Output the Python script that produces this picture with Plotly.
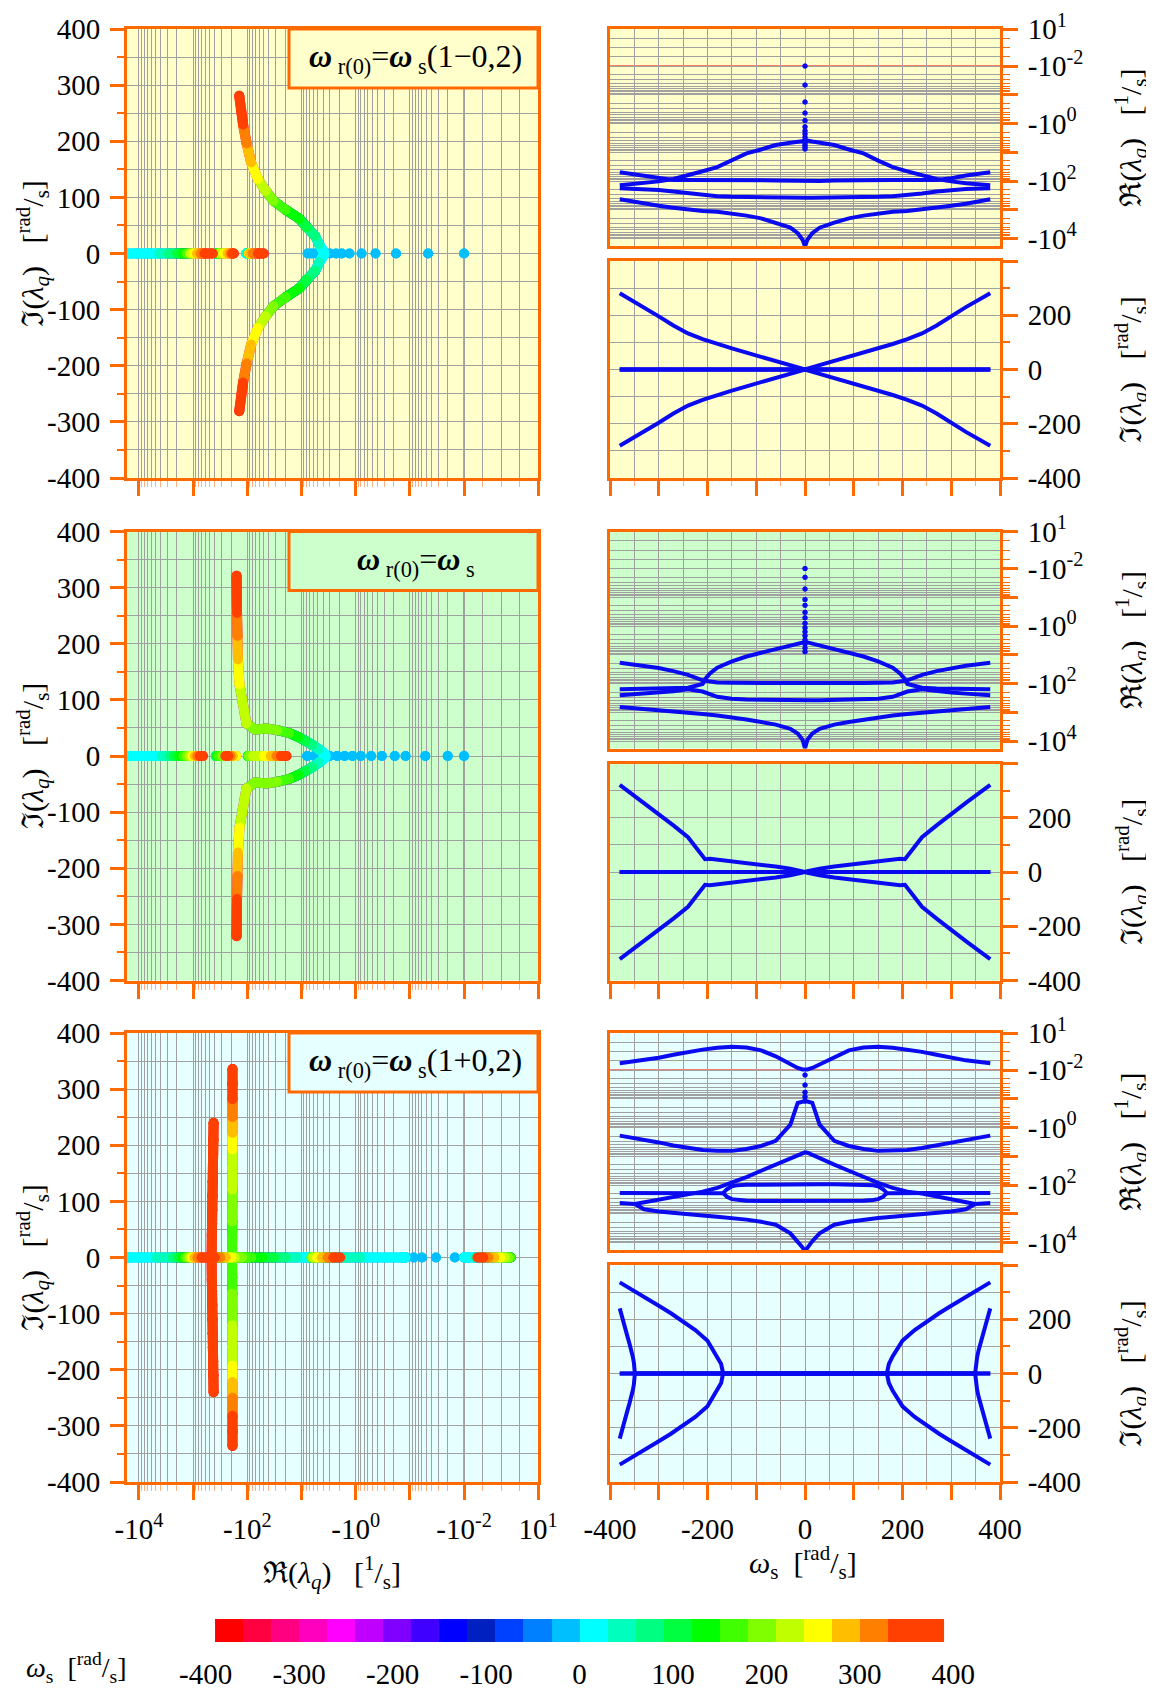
import numpy as np
import plotly.graph_objects as go

OFF = 8  # the page body margin of the browser
FIG_W, FIG_H = 1154 - OFF, 1693 - OFF

# ---------------- data (omega_s >= 0 half; curves are symmetric in omega_s) ----------------
W = [0, 5, 15, 30, 60, 90, 120, 150, 180, 210, 240, 270, 300, 330, 380]

# Row 1 : w_r(0) = w_s (1-0,2)
R1_A_RE = [-3.8, -3.9, -4.2, -4.7, -5.6, -8.0, -11.0, -19.6, -33.0, -46.0, -64.0, -85.0, -103.0, -120.0, -141.0]
R1_A_IM = [0, 3, 8, 16, 31, 47, 62, 78, 94, 112, 133, 162, 196, 230, 281]
R1_B_RE = [-104, -104, -103, -101, -97, -94, -92, -92, -92, -92, -93, -92, -80, -64, -50]
R1_C_RE = [-380, -380, -380, -379, -376, -371, -364, -354, -338, -312, -270, -232, -205, -190, -178]
R1_D_RE = [-19000, -11000, -6500, -4200, -2800, -2000, -1600, -1350, -1170, -1100, -980, -850, -730, -620, -430]
R1_E_RE = [-0.01, -0.046, -0.18, -0.43, -0.78, -1.3, -1.8, -2.3, -3.0, -3.8, -4.6, -5.5, -6.5, -7.7]

# Row 2 : w_r(0) = w_s
R2_A_W = [0, 5, 15, 30, 60, 90, 120, 150, 180, 195, 205, 210, 240, 270, 300, 330, 380]
R2_A_RE = [-3.6, -3.7, -4.1, -4.8, -6.3, -8.5, -11.5, -17, -28, -45, -71, -104, -140, -149, -152, -155, -158]
R2_A_IM = [0, 3, 7, 12, 20, 27, 34, 41, 46, 49, 47, 58, 128, 172, 214, 255, 321]
R2_B_RE = [-97, -97, -97, -96.5, -96, -96, -96, -95, -93, -78, -50, -37, -29, -24, -19]
R2_C_RE = [-380, -380, -380, -379, -376, -370, -360, -340, -290, -190, -160, -185, -205, -225, -255]
R2_D_RE = [-18000, -9000, -5500, -3800, -2700, -2200, -1800, -1500, -1300, -1150, -1030, -930, -840, -760, -660]
R2_E_RE = [-0.01, -0.02, -0.052, -0.12, -0.19, -0.33, -0.52, -0.81, -1.15, -1.6, -2.2, -3.0, -4.2, -5.8, -7.9]

# Row 3 : w_r(0) = w_s (1+0,2)
R3_F_RE = [-0.01, 0.12, 0.55, 1.5, 3.7, 5.3, 6.1, 6.3, 6.0, 5.5, 4.9, 4.1, 3.3, 2.6, 1.8]
R3_G_RE = [-0.12, -0.125, -0.14, -0.8, -2.9, -4.4, -5.6, -6.5, -6.5, -6.1, -5.2, -4.2, -3.3, -2.6, -1.92]
R3_E_RE = [-0.0148, -0.033, -0.06, -0.085, -0.12]
R3_OUT_W = [0, 5, 15, 30, 60, 90, 120, 150, 180, 210, 240, 270, 300, 330, 349]
R3_OUTT_RE = [-7.3, -7.5, -9.0, -12, -19.6, -32, -53, -85, -126, -170, -199, -251, -316, -398, -457]
R3_OUTB_RE = [-20000, -15000, -9000, -4800, -2400, -1900, -1600, -1400, -1270, -1150, -1050, -950, -830, -700, -457]
R3_IN_W = [0, 30, 60, 90, 120, 140, 150, 160, 168]
R3_INT_RE = [-95, -95, -95, -96, -98, -103, -110, -140, -192]
R3_INB_RE = [-360, -360, -360, -358, -350, -330, -310, -257, -192]
R3_P1_W = [168, 172, 180, 200, 225, 250, 275, 300, 330, 355, 380]
R3_P1_RE = [-192, -191, -190, -189, -189, -188, -188, -188, -188, -188, -188]
R3_P1_IM = [0, 35, 64, 121, 160, 193, 222, 250, 282, 310, 336]
R3_P2_W = [349, 351, 353, 356, 360, 364, 368, 372, 376, 380]
R3_P2_RE = [-457, -452, -448, -444, -440, -436, -432, -428, -424, -420]
R3_P2_IM = [0, 40, 60, 85, 110, 135, 160, 185, 210, 240]

BAND_EDGES = list(range(-390, 391, 30))
BAND_COLORS = ["#FF0000", "#FF0040", "#FF0080", "#FF00BF", "#FF00FF", "#BF00FF", "#8000FF",
               "#4000FF", "#0000FF", "#0020C0", "#0040FF", "#0080FF", "#00BFFF", "#00FFFF",
               "#00FFBF", "#00FF80", "#00FF40", "#00FF00", "#40FF00", "#80FF00", "#BFFF00",
               "#FFFF00", "#FFBF00", "#FF8000", "#FF4000", "#FF4000"]
CB_TICKS = [-400, -300, -200, -100, 0, 100, 200, 300, 400]

ROWS = [
    dict(bg="#FFFFCC", label="<b><i>ω</i></b><sub> r(0)</sub>=<b><i>ω</i></b><sub> s</sub>(1−0,2)",
         branches=[dict(w=W, re=R1_D_RE, im=None), dict(w=W, re=R1_C_RE, im=None),
                   dict(w=W, re=R1_B_RE, im=None), dict(w=W, re=R1_A_RE, im=R1_A_IM),
                   dict(w=[0] * len(R1_E_RE), re=R1_E_RE, im=None, dots=True)]),
    dict(bg="#CCFFCC", label="<b><i>ω</i></b><sub> r(0)</sub>=<b><i>ω</i></b><sub> s</sub>",
         branches=[dict(w=W, re=R2_D_RE, im=None), dict(w=W, re=R2_C_RE, im=None),
                   dict(w=W, re=R2_B_RE, im=None), dict(w=R2_A_W, re=R2_A_RE, im=R2_A_IM),
                   dict(w=[0] * len(R2_E_RE), re=R2_E_RE, im=None, dots=True)]),
    dict(bg="#E6FFFF", label="<b><i>ω</i></b><sub> r(0)</sub>=<b><i>ω</i></b><sub> s</sub>(1+0,2)",
         branches=[dict(w=R3_OUT_W, re=R3_OUTB_RE, im=None), dict(w=R3_OUT_W, re=R3_OUTT_RE, im=None),
                   dict(w=R3_IN_W, re=R3_INB_RE, im=None), dict(w=R3_IN_W, re=R3_INT_RE, im=None),
                   dict(w=W, re=R3_G_RE, im=None), dict(w=W, re=R3_F_RE, im=None),
                   dict(w=R3_P2_W, re=R3_P2_RE, im=R3_P2_IM), dict(w=R3_P1_W, re=R3_P1_RE, im=R3_P1_IM),
                   dict(w=[0] * len(R3_E_RE), re=R3_E_RE, im=None, dots=True)]),
]

# ---------------- helpers ----------------
ORANGE = "#FF6A00"
GRID = "#A0A0A0"
FONT = "Liberation Serif, Times New Roman, DejaVu Serif, serif"
BLUE = "#0A0AF0"
L_LEFT = 74 / 54.2
L_RIGHT = 37 / 28.75
TICK_SIZE = 29
TITLE_SIZE = 30


def tr(v, L):
    v = np.asarray(v, dtype=float)
    neg = -np.log10(np.maximum(np.abs(v), 1e-12))
    lin = 2 + (v + 0.01) / 10.01 * L
    return np.where(v <= -0.01, neg, lin)


def log_ticks(L):
    major = [-4, -3, -2, -1, 0, 1, 2]
    minor = []
    for k in range(-2, 4):
        for m in range(2, 10):
            minor.append(float(-np.log10(m * 10.0 ** k)))
    minor += [2 + L * j / 4 for j in (1, 2, 3)]
    text = {-4: "-10<sup>4</sup>", -2: "-10<sup>2</sup>", 0: "-10<sup>0</sup>", 2: "-10<sup>-2</sup>"}
    vals = major + [2 + L]
    labels = [text.get(v, "") for v in major] + ["10<sup>1</sup>"]
    return vals, labels, minor


def band(w):
    i = int(np.ceil((w + 390) / 30.0)) - 1
    return min(max(i, 0), len(BAND_COLORS) - 1)


def mirror(w, vals):
    w = list(w)
    vals = list(vals)
    wf = [-x for x in reversed(w)]
    vf = list(reversed(vals))
    if w[0] > 0:
        wf += [None]
        vf += [None]
    return wf + w, vf + vals


def an(n):
    return "" if n == 1 else str(n)


def PX(x):
    return (x - OFF) / FIG_W


def PY(y):
    return 1 - (y - OFF) / FIG_H


def px_x(x0, x1):
    return [PX(x0), PX(x1)]


def px_y(y0, y1):
    return [PY(y1), PY(y0)]


fig = go.Figure()
layout = dict(width=FIG_W, height=FIG_H, margin=dict(l=0, r=0, t=0, b=0, pad=0, autoexpand=False),
              paper_bgcolor="white", plot_bgcolor="rgba(0,0,0,0)", showlegend=False,
              font=dict(family=FONT, size=TICK_SIZE, color="black"))
shapes, annotations = [], []

ROW_TOP = [29, 531.5, 1033]
LX0, LX1 = 127, 538
RX0, RX1 = 610, 1000

tick_font = dict(family=FONT, size=TICK_SIZE, color="black")
lvals, llabels, lminor = log_ticks(L_LEFT)
rvals, rlabels, rminor = log_ticks(L_RIGHT)
LY_VALS = list(range(-400, 401, 100))


def text_ann(x, y, text, size=TITLE_SIZE, angle=0):
    return dict(x=PX(x), y=PY(y), xref="paper", yref="paper", text=text, textangle=angle,
                showarrow=False, xanchor="center", yanchor="middle",
                font=dict(family=FONT, size=size, color="black"))


for r, row in enumerate(ROWS):
    T = ROW_TOP[r]
    nL, nRT, nRB = 3 * r + 1, 3 * r + 2, 3 * r + 3
    aL, aRT, aRB = an(nL), an(nRT), an(nRB)
    last = (r == 2)
    frame = dict(showline=True, linecolor=ORANGE, linewidth=3, mirror=True, zeroline=False,
                 tickcolor=ORANGE, tickwidth=3, tickfont=tick_font, showgrid=True, automargin=False,
                 gridcolor=GRID, gridwidth=1)
    layout["xaxis" + aL] = dict(frame, domain=px_x(LX0, LX1), anchor="y" + aL,
                                range=[-4 - 12 / 54.2, 2 + L_LEFT], tickmode="array",
                                tickvals=lvals, ticktext=llabels if last else [""] * len(lvals),
                                ticks="outside", ticklen=15, ticklabelstandoff=4,
                                minor=dict(tickmode="array", tickvals=lminor, ticks="outside",
                                           ticklen=6, tickcolor="#FFB080", tickwidth=1,
                                           showgrid=True, gridcolor=GRID, gridwidth=1))
    layout["yaxis" + aL] = dict(frame, domain=px_y(T, T + 449), anchor="x" + aL,
                                range=[-400, 400], tickmode="array",
                                tickvals=LY_VALS, ticktext=[str(v) for v in LY_VALS],
                                ticks="outside", ticklen=14, ticklabelstandoff=4,
                                minor=dict(tickmode="array", tickvals=list(range(-350, 400, 100)),
                                           ticks="outside", ticklen=7, tickcolor=ORANGE, tickwidth=2,
                                           showgrid=True, gridcolor=GRID, gridwidth=1))
    layout["xaxis" + aRT] = dict(frame, domain=px_x(RX0, RX1), anchor="y" + aRT,
                                 range=[-400, 400], tickmode="array",
                                 tickvals=list(range(-400, 401, 50)), ticks="", showticklabels=False)
    layout["yaxis" + aRT] = dict(frame, domain=px_y(T, T + 217), anchor="x" + aRT, side="right",
                                 range=[-4 - 7.5 / 28.75, 2 + L_RIGHT], tickmode="array",
                                 tickvals=rvals, ticktext=rlabels, ticks="outside", ticklen=15,
                                 ticklabelstandoff=4,
                                 minor=dict(tickmode="array", tickvals=rminor, ticks="outside",
                                            ticklen=7, tickcolor=ORANGE, tickwidth=1,
                                            showgrid=True, gridcolor=GRID, gridwidth=1))
    layout["xaxis" + aRB] = dict(frame, domain=px_x(RX0, RX1), anchor="y" + aRB,
                                 range=[-400, 400], tickmode="array",
                                 tickvals=list(range(-400, 401, 100)),
                                 ticktext=[(str(v) if (last and v % 200 == 0) else "") for v in range(-400, 401, 100)],
                                 ticks="outside", ticklen=15, ticklabelstandoff=4,
                                 minor=dict(tickmode="array", tickvals=list(range(-350, 400, 100)),
                                            ticks="outside", ticklen=5, tickcolor="#FFB080", tickwidth=1,
                                            showgrid=True, gridcolor=GRID, gridwidth=1))
    layout["yaxis" + aRB] = dict(frame, domain=px_y(T + 232, T + 449), anchor="x" + aRB, side="right",
                                 range=[-400, 400], tickmode="array",
                                 tickvals=[-400, -200, 0, 200, 400], ticktext=["-400", "-200", "0", "200", ""],
                                 ticks="outside", ticklen=15, ticklabelstandoff=4,
                                 minor=dict(tickmode="array", tickvals=[-300, -100, 100, 300],
                                            ticks="outside", ticklen=7, tickcolor=ORANGE, tickwidth=2,
                                            showgrid=True, gridcolor=GRID, gridwidth=1))
    # panel backgrounds
    for (x0, x1, y0, y1) in ((LX0, LX1, T, T + 449), (RX0, RX1, T, T + 217), (RX0, RX1, T + 232, T + 449)):
        shapes.append(dict(type="rect", xref="paper", yref="paper", x0=PX(x0), x1=PX(x1),
                           y0=PY(y1), y1=PY(y0), fillcolor=row["bg"], line=dict(width=0), layer="below"))
    # stability boundary lines (Re = -0.01)
    shapes.append(dict(type="line", xref="x" + aL, yref="y" + aL, x0=2, x1=2, y0=-400, y1=400,
                       line=dict(color="red", width=1), layer="below"))
    shapes.append(dict(type="line", xref="x" + aRT, yref="y" + aRT, x0=-400, x1=400, y0=2, y1=2,
                       line=dict(color="red", width=1), layer="below"))

    # ---- left panel: colored by omega_s ----
    seg_buckets = {i: ([], []) for i in range(len(BAND_COLORS))}
    dot_buckets = {i: ([], []) for i in range(len(BAND_COLORS))}
    for br in row["branches"]:
        wf, ref = mirror(br["w"], br["re"])
        if br["im"] is not None:
            _, imf = mirror(br["w"], br["im"])
            signs = (1, -1)
        else:
            imf = [0 if v is not None else None for v in ref]
            signs = (1,)
        if br.get("dots"):
            for w_, re_ in zip(wf, ref):
                b = band(w_)
                dot_buckets[b][0].append(float(tr([re_], L_LEFT)[0]))
                dot_buckets[b][1].append(0)
            continue
        for i in range(len(wf) - 1):
            if wf[i] is None or wf[i + 1] is None:
                continue
            b = band(0.5 * (wf[i] + wf[i + 1]))
            x0, x1 = tr([ref[i], ref[i + 1]], L_LEFT)
            for s in signs:
                seg_buckets[b][0].extend([float(x0), float(x1), None])
                seg_buckets[b][1].extend([s * imf[i], s * imf[i + 1], None])
    for b in range(len(BAND_COLORS)):
        xs, ys = seg_buckets[b]
        if xs:
            fig.add_trace(go.Scatter(x=xs, y=ys, mode="lines+markers", xaxis="x" + aL, yaxis="y" + aL,
                                     line=dict(color=BAND_COLORS[b], width=10),
                                     marker=dict(color=BAND_COLORS[b], size=10), hoverinfo="skip"))
        xs, ys = dot_buckets[b]
        if xs:
            fig.add_trace(go.Scatter(x=xs, y=ys, mode="markers", xaxis="x" + aL, yaxis="y" + aL,
                                     marker=dict(color=BAND_COLORS[b], size=10), hoverinfo="skip"))

    # ---- right panels ----
    for br in row["branches"]:
        wf, ref = mirror(br["w"], br["re"])
        yv = [float(tr([v], L_RIGHT)[0]) if v is not None else None for v in ref]
        if br.get("dots"):
            fig.add_trace(go.Scatter(x=wf, y=yv, mode="markers", xaxis="x" + aRT, yaxis="y" + aRT,
                                     marker=dict(color=BLUE, size=5), hoverinfo="skip"))
            continue
        fig.add_trace(go.Scatter(x=wf, y=yv, mode="lines", xaxis="x" + aRT, yaxis="y" + aRT,
                                 line=dict(color=BLUE, width=4), hoverinfo="skip"))
        if br["im"] is not None:
            _, imf = mirror(br["w"], br["im"])
            for s in (1, -1):
                fig.add_trace(go.Scatter(x=wf, y=[s * v if v is not None else None for v in imf],
                                         mode="lines", xaxis="x" + aRB, yaxis="y" + aRB,
                                         line=dict(color=BLUE, width=4), hoverinfo="skip"))
        else:
            fig.add_trace(go.Scatter(x=wf, y=[0 if v is not None else None for v in ref],
                                     mode="lines", xaxis="x" + aRB, yaxis="y" + aRB,
                                     line=dict(color=BLUE, width=4), hoverinfo="skip"))

    # label box
    bx0, bx1, by0, by1 = 289, 538, T, T + 59
    shapes.append(dict(type="rect", xref="paper", yref="paper", x0=PX(bx0), x1=PX(bx1),
                       y0=PY(by1), y1=PY(by0), fillcolor=row["bg"],
                       line=dict(color=ORANGE, width=3), layer="above"))
    annotations.append(text_ann((bx0 + bx1) / 2 + 2, (by0 + by1) / 2, row["label"], size=32))
    im_title = "ℑ(<i>λ<sub>q</sub></i>)\u00a0\u00a0\u00a0[<sup>rad</sup>/<sub>s</sub>]"
    re_title = "ℜ(<i>λ<sub>q</sub></i>)\u00a0\u00a0\u00a0[<sup>1</sup>/<sub>s</sub>]"
    annotations.append(text_ann(33, T + 224.5, im_title, angle=-90))
    annotations.append(text_ann(1131, T + 108.5, re_title, angle=-90))
    annotations.append(text_ann(1131, T + 340.5, im_title, angle=-90))

annotations.append(text_ann(332, 1572, "ℜ(<i>λ<sub>q</sub></i>)\u00a0\u00a0\u00a0[<sup>1</sup>/<sub>s</sub>]"))
annotations.append(text_ann(803, 1562, "<i>ω</i><sub>s</sub>\u00a0\u00a0[<sup>rad</sup>/<sub>s</sub>]"))
annotations.append(text_ann(76, 1667, "<i>ω</i><sub>s</sub>\u00a0\u00a0[<sup>rad</sup>/<sub>s</sub>]", size=28))

# ---------------- colour bar ----------------
nb = len(BAND_COLORS)
cs = []
for i, c in enumerate(BAND_COLORS):
    cs.append([i / nb, c])
    cs.append([(i + 1) / nb, c])
fig.add_trace(go.Heatmap(x=BAND_EDGES, y=[0], z=[list(range(nb))], colorscale=cs, zmin=-0.5, zmax=nb - 0.5,
                         showscale=False, xaxis="x10", yaxis="y10", hoverinfo="skip"))
layout["xaxis10"] = dict(domain=px_x(205.7, 953.3), anchor="y10", range=[-400, 400], tickmode="array",
                         tickvals=CB_TICKS, ticktext=[str(v) for v in CB_TICKS], ticks="",
                         showline=False, showgrid=False, zeroline=False, tickfont=tick_font,
                         ticklabelstandoff=12, automargin=False)
layout["yaxis10"] = dict(domain=px_y(1619, 1642), anchor="x10", range=[-0.5, 0.5], visible=False,
                         automargin=False)

layout["shapes"] = shapes
layout["annotations"] = annotations
fig.update_layout(**layout)
fig.write_html("out.html")
